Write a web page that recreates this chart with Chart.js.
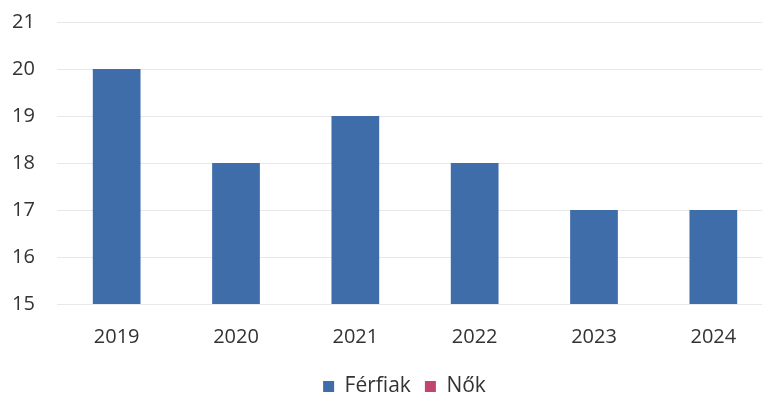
<!DOCTYPE html>
<html><head><meta charset="utf-8">
<script src="https://cdn.jsdelivr.net/npm/chart.js@4"></script>
<style>html,body{margin:0;padding:0;background:#fff;overflow:hidden}#w{width:773px;height:399px;position:relative}</style>
</head><body><div id="w"><canvas id="c"></canvas></div>
<script>
const categories = ['2019','2020','2021','2022','2023','2024'];
const ferfiak = [20, 18, 19, 18, 17, 17];
const nok = [null, null, null, null, null, null];
const yTicks = [15,16,17,18,19,20,21];

const shiftLegend = {
  id: 'shiftLegend',
  afterLayout(chart) {
    const lg = chart.legend;
    if (lg) { lg.top += 8; lg.bottom += 8; lg.left += 12; lg.right += 12; }
  }
};

new Chart(document.getElementById('c'), {
  type: 'bar',
  data: {
    labels: categories,
    datasets: [
      {label: 'Férfiak', data: ferfiak, backgroundColor: '#3f6daa', grouped: false, categoryPercentage: 1, barPercentage: 0.4},
      {label: 'Nők', data: nok, backgroundColor: '#c2456e', grouped: false, categoryPercentage: 1, barPercentage: 0.4}
    ]
  },
  plugins: [shiftLegend],
  options: {
    responsive: true, maintainAspectRatio: false, animation: false,
    layout: {padding: {top: 22, left: 12, right: 0, bottom: 0}},
    plugins: {
      tooltip: {enabled: false},
      legend: {position: 'bottom', labels: {font: {family: 'Open Sans', size: 21}, color: '#333', boxWidth: 11, boxHeight: 11, padding: 14}}
    },
    scales: {
      x: {
        grid: {display: false, drawTicks: false},
        border: {display: false},
        afterFit: s => { s.height = 50; },
        ticks: {font: {family: 'Open Sans', size: 20}, color: '#333', padding: 21}
      },
      y: {
        min: 15, max: 21,
        afterBuildTicks: s => { s.ticks = yTicks.map(v => ({value: v})); },
        afterFit: s => { s.width = 45; },
        grid: {color: '#e8e8e8', drawTicks: false},
        border: {display: false},
        ticks: {font: {family: 'Open Sans', size: 20}, color: '#333', padding: 6, crossAlign: 'far'}
      }
    }
  }
});
</script></body></html>
